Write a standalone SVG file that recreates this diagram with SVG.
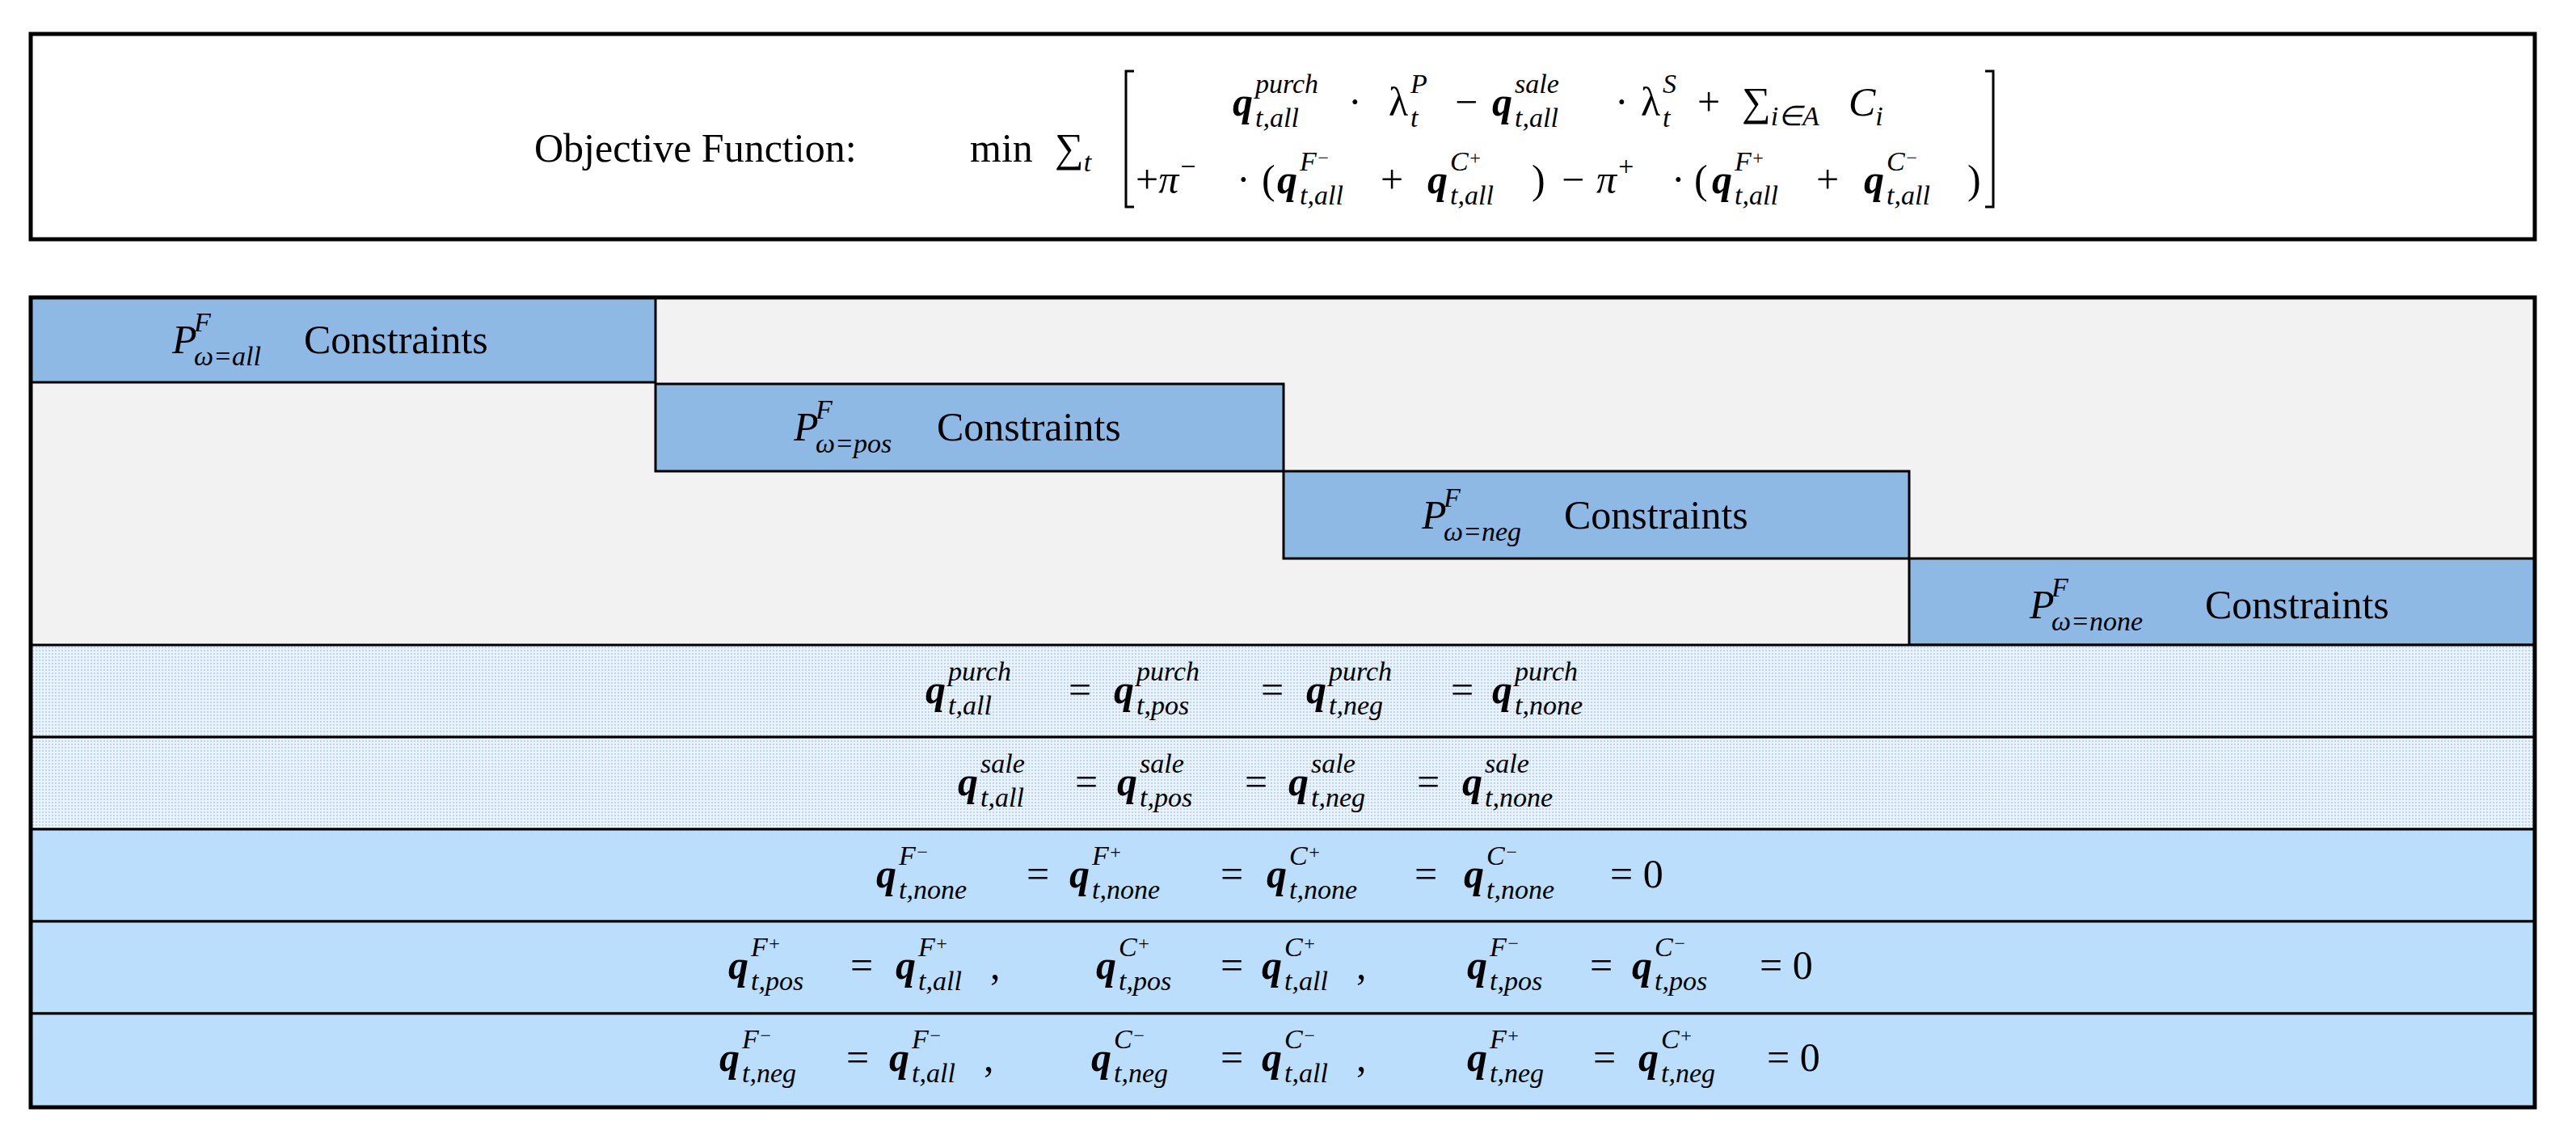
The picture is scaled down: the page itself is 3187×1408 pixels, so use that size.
<svg xmlns="http://www.w3.org/2000/svg" width="3187" height="1408" viewBox="0 0 3187 1408">
<defs>
<pattern id="dots" width="4" height="4" patternUnits="userSpaceOnUse">
<rect width="4" height="4" fill="#eaf3fc"/><rect width="2" height="2" fill="#bcd6ee"/>
</pattern>
<style>
text{font-family:"Liberation Serif",serif;fill:#000}
.t{font-size:50px}
.m{font-size:50px;font-style:italic}
.b{font-weight:bold}
.s{font-size:34px;font-style:italic;font-weight:normal}
.box{stroke:#000;stroke-width:3}
.blue{fill:#8eb9e4}
.band{fill:#bbdefc}
</style>
</defs>
<g id="objective">
<rect x="38" y="42" width="3098" height="254" fill="#fff" stroke="#000" stroke-width="5"/>
<text class="t" x="661" y="200">Objective Function:</text>
<text class="t" x="1200" y="200">min</text>
<text class="t" x="1305" y="200">∑<tspan class="s" dy="12">t</tspan></text>
<path d="M1403 88 H1393 V256 H1403 M2456 88 H2466 V256 H2456" fill="none" stroke="#000" stroke-width="3"/>
<text class="m" x="1525" y="143"><tspan class="b">q</tspan><tspan class="s" x="1553" y="157">t,all</tspan><tspan class="s" x="1553" y="115">purch</tspan></text>
<text class="t" x="1668" y="143">·</text>
<text class="m" x="1718" y="143"><tspan font-style="normal">λ</tspan><tspan class="s" x="1745" y="157">t</tspan><tspan class="s" x="1745" y="115">P</tspan></text>
<text class="t" x="1800" y="143">−</text>
<text class="m" x="1846" y="143"><tspan class="b">q</tspan><tspan class="s" x="1874" y="157">t,all</tspan><tspan class="s" x="1874" y="115">sale</tspan></text>
<text class="t" x="1998" y="143">·</text>
<text class="m" x="2030" y="143"><tspan font-style="normal">λ</tspan><tspan class="s" x="2057" y="157">t</tspan><tspan class="s" x="2057" y="115">S</tspan></text>
<text class="t" x="2100" y="143">+</text>
<text class="t" x="2155" y="143">∑<tspan class="s" dy="12">i∈A</tspan></text>
<text class="m" x="2287" y="143">C<tspan class="s" dy="12">i</tspan></text>
<text class="t" x="1405" y="239">+<tspan font-style="italic">π</tspan><tspan class="s" dy="-22">−</tspan></text>
<text class="t" x="1530" y="239">·</text>
<text class="t" x="1561" y="239">(</text>
<text class="m" x="1580" y="239"><tspan class="b">q</tspan><tspan class="s" x="1608" y="253">t,all</tspan><tspan class="s" x="1608" y="211">F<tspan font-size="24" dy="-8">−</tspan></tspan></text>
<text class="t" x="1708" y="239">+</text>
<text class="m" x="1766" y="239"><tspan class="b">q</tspan><tspan class="s" x="1794" y="253">t,all</tspan><tspan class="s" x="1794" y="211">C<tspan font-size="24" dy="-8">+</tspan></tspan></text>
<text class="t" x="1895" y="239">)</text>
<text class="t" x="1932" y="239">−</text>
<text class="t" x="1975" y="239"><tspan font-style="italic">π</tspan><tspan class="s" dy="-22">+</tspan></text>
<text class="t" x="2068" y="239">·</text>
<text class="t" x="2096" y="239">(</text>
<text class="m" x="2118" y="239"><tspan class="b">q</tspan><tspan class="s" x="2146" y="253">t,all</tspan><tspan class="s" x="2146" y="211">F<tspan font-size="24" dy="-8">+</tspan></tspan></text>
<text class="t" x="2247" y="239">+</text>
<text class="m" x="2306" y="239"><tspan class="b">q</tspan><tspan class="s" x="2334" y="253">t,all</tspan><tspan class="s" x="2334" y="211">C<tspan font-size="24" dy="-8">−</tspan></tspan></text>
<text class="t" x="2434" y="239">)</text>
</g>
<g id="frame">
<rect x="38" y="368" width="3098" height="430" fill="#f2f2f2"/>
</g>
<g id="p-all">
<rect class="box blue" x="38" y="368" width="773" height="105"/>
<text class="m" x="213" y="437">P<tspan class="s" x="240" y="452">ω=all</tspan><tspan class="s" x="240" y="410">F</tspan></text>
<text class="t" x="376" y="437">Constraints</text>
</g>
<g id="p-pos">
<rect class="box blue" x="811" y="475" width="777" height="108"/>
<text class="m" x="982" y="545">P<tspan class="s" x="1009" y="560">ω=pos</tspan><tspan class="s" x="1009" y="518">F</tspan></text>
<text class="t" x="1159" y="545">Constraints</text>
</g>
<g id="p-neg">
<rect class="box blue" x="1588" y="583" width="774" height="108"/>
<text class="m" x="1759" y="654">P<tspan class="s" x="1786" y="669">ω=neg</tspan><tspan class="s" x="1786" y="627">F</tspan></text>
<text class="t" x="1935" y="654">Constraints</text>
</g>
<g id="p-none">
<rect class="box blue" x="2362" y="691" width="774" height="107"/>
<text class="m" x="2511" y="765">P<tspan class="s" x="2538" y="780">ω=none</tspan><tspan class="s" x="2538" y="738">F</tspan></text>
<text class="t" x="2728" y="765">Constraints</text>
</g>
<g id="row-purch">
<rect class="box" fill="url(#dots)" x="38" y="798" width="3098" height="114"/>
<text class="m" x="1145" y="870"><tspan class="b">q</tspan><tspan class="s" x="1173" y="884">t,all</tspan><tspan class="s" x="1173" y="842">purch</tspan></text>
<text class="t" x="1322" y="870">=</text>
<text class="m" x="1378" y="870"><tspan class="b">q</tspan><tspan class="s" x="1406" y="884">t,pos</tspan><tspan class="s" x="1406" y="842">purch</tspan></text>
<text class="t" x="1560" y="870">=</text>
<text class="m" x="1616" y="870"><tspan class="b">q</tspan><tspan class="s" x="1644" y="884">t,neg</tspan><tspan class="s" x="1644" y="842">purch</tspan></text>
<text class="t" x="1795" y="870">=</text>
<text class="m" x="1846" y="870"><tspan class="b">q</tspan><tspan class="s" x="1874" y="884">t,none</tspan><tspan class="s" x="1874" y="842">purch</tspan></text>
</g>
<g id="row-sale">
<rect class="box" fill="url(#dots)" x="38" y="912" width="3098" height="114"/>
<text class="m" x="1185" y="984"><tspan class="b">q</tspan><tspan class="s" x="1213" y="998">t,all</tspan><tspan class="s" x="1213" y="956">sale</tspan></text>
<text class="t" x="1330" y="984">=</text>
<text class="m" x="1382" y="984"><tspan class="b">q</tspan><tspan class="s" x="1410" y="998">t,pos</tspan><tspan class="s" x="1410" y="956">sale</tspan></text>
<text class="t" x="1540" y="984">=</text>
<text class="m" x="1594" y="984"><tspan class="b">q</tspan><tspan class="s" x="1622" y="998">t,neg</tspan><tspan class="s" x="1622" y="956">sale</tspan></text>
<text class="t" x="1753" y="984">=</text>
<text class="m" x="1809" y="984"><tspan class="b">q</tspan><tspan class="s" x="1837" y="998">t,none</tspan><tspan class="s" x="1837" y="956">sale</tspan></text>
</g>
<g id="row-none">
<rect class="box band" x="38" y="1026" width="3098" height="114"/>
<text class="m" x="1084" y="1098"><tspan class="b">q</tspan><tspan class="s" x="1112" y="1112">t,none</tspan><tspan class="s" x="1112" y="1070">F<tspan font-size="24" dy="-8">−</tspan></tspan></text>
<text class="t" x="1270" y="1098">=</text>
<text class="m" x="1323" y="1098"><tspan class="b">q</tspan><tspan class="s" x="1351" y="1112">t,none</tspan><tspan class="s" x="1351" y="1070">F<tspan font-size="24" dy="-8">+</tspan></tspan></text>
<text class="t" x="1510" y="1098">=</text>
<text class="m" x="1567" y="1098"><tspan class="b">q</tspan><tspan class="s" x="1595" y="1112">t,none</tspan><tspan class="s" x="1595" y="1070">C<tspan font-size="24" dy="-8">+</tspan></tspan></text>
<text class="t" x="1750" y="1098">=</text>
<text class="m" x="1811" y="1098"><tspan class="b">q</tspan><tspan class="s" x="1839" y="1112">t,none</tspan><tspan class="s" x="1839" y="1070">C<tspan font-size="24" dy="-8">−</tspan></tspan></text>
<text class="t" x="1992" y="1098">= 0</text>
</g>
<g id="row-pos">
<rect class="box band" x="38" y="1140" width="3098" height="114"/>
<text class="m" x="901" y="1211"><tspan class="b">q</tspan><tspan class="s" x="929" y="1225">t,pos</tspan><tspan class="s" x="929" y="1183">F<tspan font-size="24" dy="-8">+</tspan></tspan></text>
<text class="t" x="1052" y="1211">=</text>
<text class="m" x="1108" y="1211"><tspan class="b">q</tspan><tspan class="s" x="1136" y="1225">t,all</tspan><tspan class="s" x="1136" y="1183">F<tspan font-size="24" dy="-8">+</tspan></tspan></text>
<text class="t" x="1225" y="1211">,</text>
<text class="m" x="1356" y="1211"><tspan class="b">q</tspan><tspan class="s" x="1384" y="1225">t,pos</tspan><tspan class="s" x="1384" y="1183">C<tspan font-size="24" dy="-8">+</tspan></tspan></text>
<text class="t" x="1510" y="1211">=</text>
<text class="m" x="1561" y="1211"><tspan class="b">q</tspan><tspan class="s" x="1589" y="1225">t,all</tspan><tspan class="s" x="1589" y="1183">C<tspan font-size="24" dy="-8">+</tspan></tspan></text>
<text class="t" x="1678" y="1211">,</text>
<text class="m" x="1815" y="1211"><tspan class="b">q</tspan><tspan class="s" x="1843" y="1225">t,pos</tspan><tspan class="s" x="1843" y="1183">F<tspan font-size="24" dy="-8">−</tspan></tspan></text>
<text class="t" x="1967" y="1211">=</text>
<text class="m" x="2019" y="1211"><tspan class="b">q</tspan><tspan class="s" x="2047" y="1225">t,pos</tspan><tspan class="s" x="2047" y="1183">C<tspan font-size="24" dy="-8">−</tspan></tspan></text>
<text class="t" x="2177" y="1211">= 0</text>
</g>
<g id="row-neg">
<rect class="box band" x="38" y="1254" width="3098" height="116"/>
<text class="m" x="890" y="1325"><tspan class="b">q</tspan><tspan class="s" x="918" y="1339">t,neg</tspan><tspan class="s" x="918" y="1297">F<tspan font-size="24" dy="-8">−</tspan></tspan></text>
<text class="t" x="1047" y="1325">=</text>
<text class="m" x="1100" y="1325"><tspan class="b">q</tspan><tspan class="s" x="1128" y="1339">t,all</tspan><tspan class="s" x="1128" y="1297">F<tspan font-size="24" dy="-8">−</tspan></tspan></text>
<text class="t" x="1217" y="1325">,</text>
<text class="m" x="1350" y="1325"><tspan class="b">q</tspan><tspan class="s" x="1378" y="1339">t,neg</tspan><tspan class="s" x="1378" y="1297">C<tspan font-size="24" dy="-8">−</tspan></tspan></text>
<text class="t" x="1510" y="1325">=</text>
<text class="m" x="1561" y="1325"><tspan class="b">q</tspan><tspan class="s" x="1589" y="1339">t,all</tspan><tspan class="s" x="1589" y="1297">C<tspan font-size="24" dy="-8">−</tspan></tspan></text>
<text class="t" x="1678" y="1325">,</text>
<text class="m" x="1815" y="1325"><tspan class="b">q</tspan><tspan class="s" x="1843" y="1339">t,neg</tspan><tspan class="s" x="1843" y="1297">F<tspan font-size="24" dy="-8">+</tspan></tspan></text>
<text class="t" x="1971" y="1325">=</text>
<text class="m" x="2027" y="1325"><tspan class="b">q</tspan><tspan class="s" x="2055" y="1339">t,neg</tspan><tspan class="s" x="2055" y="1297">C<tspan font-size="24" dy="-8">+</tspan></tspan></text>
<text class="t" x="2186" y="1325">= 0</text>
</g>
<g id="connectors"></g>
<rect x="38" y="368" width="3098" height="1002" fill="none" stroke="#000" stroke-width="5"/>
</svg>
